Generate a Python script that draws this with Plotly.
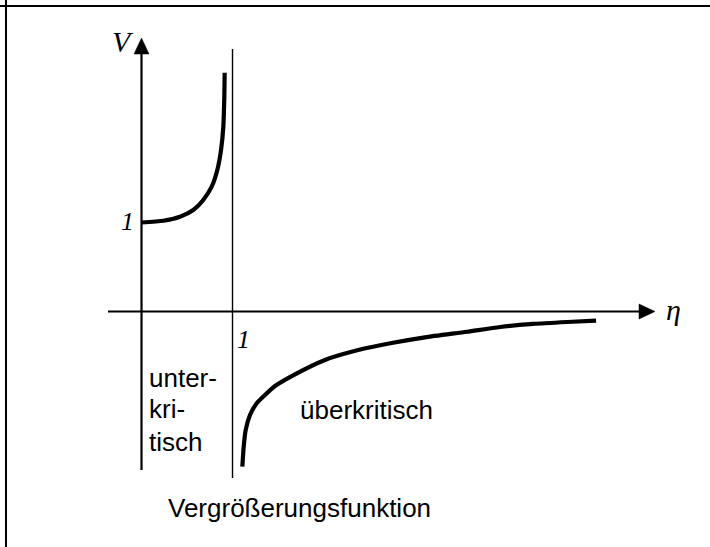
import plotly.graph_objects as go

# Vergrößerungsfunktion V(eta): sketch of the two branches
# unterkritisch branch (0 <= eta < 1)
eta_unter = [0.0, 0.240, 0.423, 0.569, 0.679, 0.771, 0.833, 0.874, 0.899, 0.910, 0.914]
v_unter = [1.0, 1.020, 1.065, 1.140, 1.253, 1.402, 1.590, 1.815, 2.076, 2.413, 2.683]

# überkritisch branch (eta > 1)
eta_ueber = [1.108, 1.123, 1.145, 1.192, 1.266, 1.357, 1.467, 1.651, 2.016, 2.382,
             2.749, 3.115, 3.577, 3.940, 4.302, 4.676, 4.995]
v_ueber = [-1.744, -1.519, -1.331, -1.163, -1.031, -0.938, -0.837, -0.725, -0.544, -0.433,
           -0.354, -0.290, -0.227, -0.174, -0.140, -0.118, -0.103]

# axis extents (data units)
x_axis_start, x_axis_tip = -0.368, 5.643
y_axis_start, y_axis_tip = -1.781, 3.073
asym_eta, asym_low, asym_high = 1.0, -1.871, 2.949

# plot window
X_RANGE = [-1.555, 6.247]
Y_RANGE = [-2.646, 3.500]
W, H = 710, 547
px_x = W / (X_RANGE[1] - X_RANGE[0])   # pixels per eta unit
px_y = H / (Y_RANGE[1] - Y_RANGE[0])   # pixels per V unit

HEAD_LEN, HEAD_HALF = 16, 7.5           # arrowhead size in pixels

fig = go.Figure()

black = "black"

# coordinate axes
fig.add_trace(go.Scatter(x=[x_axis_start, x_axis_tip - HEAD_LEN / px_x], y=[0, 0],
                         mode="lines", line=dict(color=black, width=2.2),
                         hoverinfo="skip"))
fig.add_trace(go.Scatter(x=[0, 0], y=[y_axis_start, y_axis_tip - HEAD_LEN / px_y],
                         mode="lines", line=dict(color=black, width=2.2),
                         hoverinfo="skip"))

# arrowheads
hx = x_axis_tip - HEAD_LEN / px_x
fig.add_trace(go.Scatter(x=[hx, x_axis_tip, hx, hx],
                         y=[HEAD_HALF / px_y, 0, -HEAD_HALF / px_y, HEAD_HALF / px_y],
                         mode="lines", fill="toself", fillcolor=black,
                         line=dict(color=black, width=0.5), hoverinfo="skip"))
hy = y_axis_tip - HEAD_LEN / px_y
fig.add_trace(go.Scatter(x=[-HEAD_HALF / px_x, 0, HEAD_HALF / px_x, -HEAD_HALF / px_x],
                         y=[hy, y_axis_tip, hy, hy],
                         mode="lines", fill="toself", fillcolor=black,
                         line=dict(color=black, width=0.5), hoverinfo="skip"))

# resonance asymptote at eta = 1
fig.add_trace(go.Scatter(x=[asym_eta, asym_eta], y=[asym_low, asym_high],
                         mode="lines", line=dict(color=black, width=1.4),
                         hoverinfo="skip"))

# the two branches
fig.add_trace(go.Scatter(x=eta_unter, y=v_unter, mode="lines",
                         line=dict(color=black, width=4.2, shape="spline", smoothing=0.6),
                         hoverinfo="skip"))
fig.add_trace(go.Scatter(x=eta_ueber, y=v_ueber, mode="lines",
                         line=dict(color=black, width=4.2, shape="spline", smoothing=0.6),
                         hoverinfo="skip"))

serif_it = dict(family="Liberation Serif, Times New Roman, serif", color=black)
sans = dict(family="Liberation Sans, Arial, sans-serif", color=black, size=26)

annotations = [
    dict(x=-0.203, y=3.039, text="<i>V</i>", font=dict(size=30, **serif_it)),
    dict(x=-0.159, y=1.006, text="<i>1</i>", font=dict(size=26, **serif_it)),
    dict(x=1.121, y=-0.320, text="<i>1</i>", font=dict(size=26, **serif_it)),
    dict(x=5.841, y=0.028, text="<i>η</i>", font=dict(size=30, **serif_it)),
    dict(x=0.060, y=-0.747, text="unter-", xanchor="left", font=sans),
    dict(x=0.060, y=-1.096, text="kri-", xanchor="left", font=sans),
    dict(x=0.060, y=-1.466, text="tisch", xanchor="left", font=sans),
    dict(x=1.720, y=-1.107, text="überkritisch", xanchor="left", font=sans),
    dict(x=0.269, y=-2.208, text="Vergrößerungsfunktion", xanchor="left", font=sans),
]
for a in annotations:
    a.setdefault("xanchor", "center")
    a.update(showarrow=False, yanchor="middle", xref="x", yref="y")

# frame lines along the top and left edge
shapes = [
    dict(type="line", xref="paper", yref="paper", x0=0, x1=1,
         y0=1 - 6 / H, y1=1 - 6 / H, line=dict(color=black, width=2)),
    dict(type="line", xref="paper", yref="paper", x0=6 / W, x1=6 / W,
         y0=0, y1=1, line=dict(color=black, width=2)),
]

fig.update_layout(
    width=W, height=H,
    margin=dict(l=0, r=0, t=0, b=0),
    paper_bgcolor="white", plot_bgcolor="white",
    showlegend=False,
    xaxis=dict(range=X_RANGE, visible=False, fixedrange=True),
    yaxis=dict(range=Y_RANGE, visible=False, fixedrange=True),
    annotations=annotations,
    shapes=shapes,
)

fig.write_html("out.html")
